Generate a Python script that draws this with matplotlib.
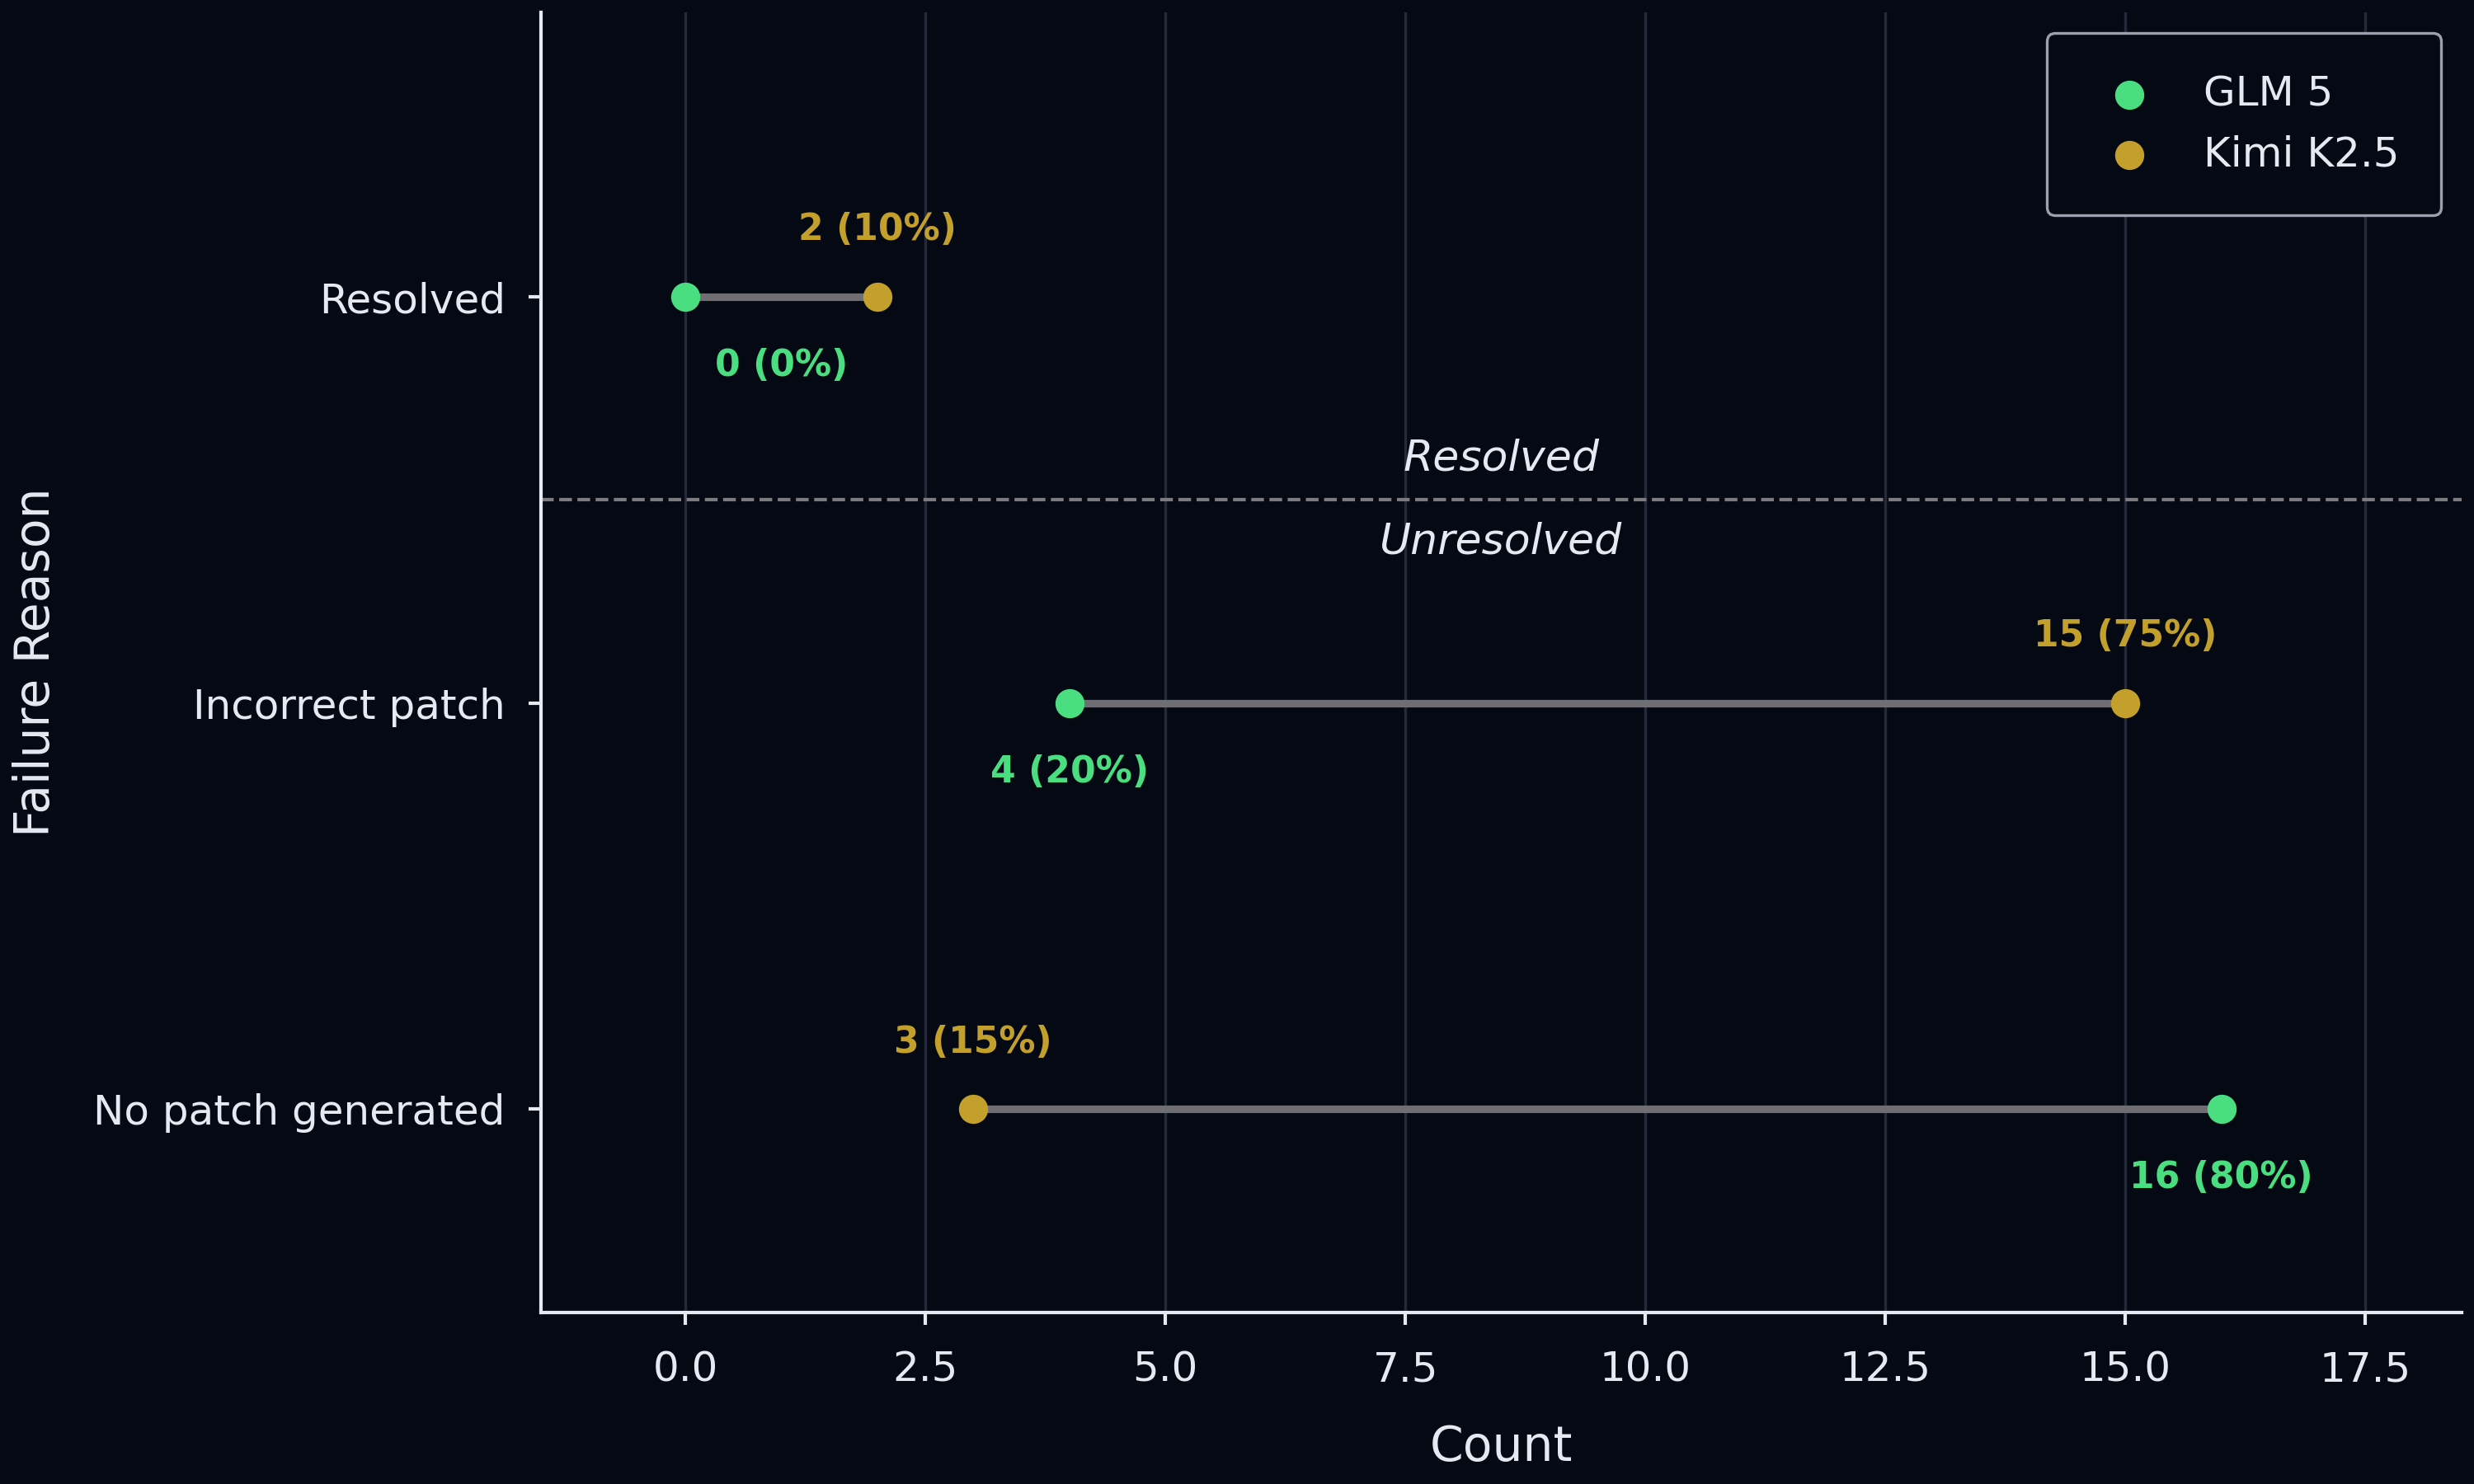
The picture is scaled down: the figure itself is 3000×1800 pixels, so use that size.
import matplotlib
matplotlib.use("Agg")
import matplotlib.pyplot as plt
import matplotlib.transforms as mtransforms
import numpy as np

# ---- data ----
categories = ["Resolved", "Incorrect patch", "No patch generated"]
glm5 = [0, 4, 16]
kimi = [2, 15, 3]
glm5_pct = [0, 20, 80]
kimi_pct = [10, 75, 15]
series_names = ["GLM 5", "Kimi K2.5"]
xticks = [0.0, 2.5, 5.0, 7.5, 10.0, 12.5, 15.0, 17.5]

BG = "#050914"
FG = "#e6e9f2"
GREEN = "#4ade80"
GOLD = "#c2a02b"
LINE = "#6f6f73"
GRID = "#242a39"

plt.rcParams["font.family"] = ["DejaVu Sans"]

fig = plt.figure(figsize=(10, 6), dpi=300, facecolor=BG)
ax = fig.add_axes([0.2188, 0.1158, 0.9949 - 0.2188, 0.9915 - 0.1158])
ax.set_facecolor(BG)

y = np.arange(len(categories))

for i in range(len(categories)):
    ax.plot([glm5[i], kimi[i]], [y[i], y[i]], color=LINE, lw=2.2, zorder=2,
            solid_capstyle="butt")

ax.scatter(glm5, y, s=72, color=GREEN, zorder=3, label=series_names[0], linewidths=0)
ax.scatter(kimi, y, s=72, color=GOLD, zorder=3, label=series_names[1], linewidths=0)

for i in range(len(categories)):
    gx = 1.0 if glm5[i] == 0 else glm5[i]
    ax.annotate(f"{glm5[i]} ({glm5_pct[i]}%)", xy=(gx, y[i]), xytext=(0, -20),
                textcoords="offset points", ha="center", va="center",
                color=GREEN, fontsize=10.6, fontweight="bold", zorder=4)
    ax.annotate(f"{kimi[i]} ({kimi_pct[i]}%)", xy=(kimi[i], y[i]), xytext=(0, 19.5),
                textcoords="offset points", ha="center", va="center",
                color=GOLD, fontsize=10.6, fontweight="bold", zorder=4)

# separator
ax.axhline(0.5, color="#7b7b80", lw=1.0, ls="--", zorder=1)
trans = mtransforms.blended_transform_factory(ax.transAxes, ax.transData)
ax.text(0.5, 0.398, "Resolved", transform=trans, ha="center", va="center",
        color=FG, fontsize=12.5, style="italic")
ax.text(0.5, 0.603, "Unresolved", transform=trans, ha="center", va="center",
        color=FG, fontsize=12.5, style="italic")

ax.set_xlim(-1.5, 18.5)
ax.set_ylim(2.5, -0.7)
ax.set_yticks(y)
ax.set_yticklabels(categories)
ax.set_xticks(xticks)
ax.set_xticklabels([f"{t:.1f}" for t in xticks])

ax.tick_params(axis="both", colors=FG, labelcolor=FG, labelsize=12, pad=7,
               length=3.5, width=1.0)
ax.tick_params(axis="x", pad=7.5)
ax.grid(axis="x", color=GRID, lw=0.8, zorder=0)
ax.grid(axis="y", visible=False)
ax.set_axisbelow(True)

for s in ["top", "right"]:
    ax.spines[s].set_visible(False)
for s in ["left", "bottom"]:
    ax.spines[s].set_color(FG)
    ax.spines[s].set_linewidth(1.0)

ax.set_xlabel("Count", color=FG, fontsize=14, labelpad=10)
ax.set_ylabel("Failure Reason", color=FG, fontsize=14, labelpad=10)

leg = ax.legend(loc="upper right", fontsize=12, frameon=True, borderpad=1.0,
                facecolor=BG, edgecolor="#9aa0ad", framealpha=1.0, labelcolor=FG)
leg.get_frame().set_linewidth(0.8)

fig.savefig("out.png", dpi=300, facecolor=BG)
